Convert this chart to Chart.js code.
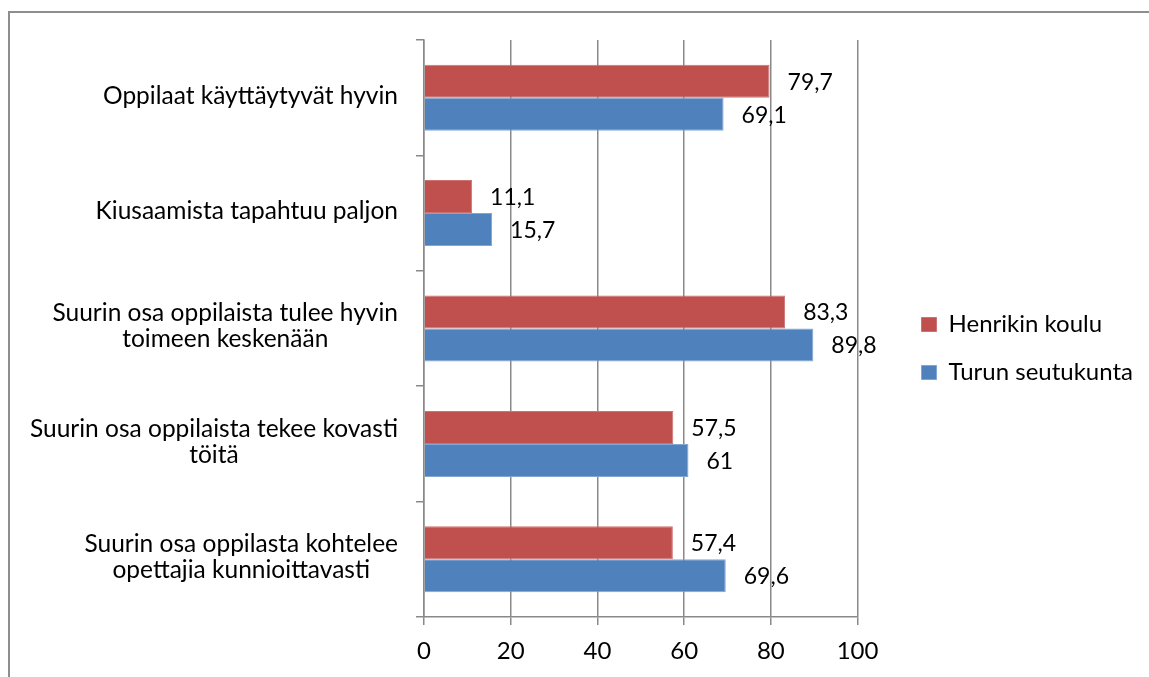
<!DOCTYPE html>
<html>
<head>
<meta charset="utf-8">
<script src="https://cdn.jsdelivr.net/npm/chart.js@4.4.1/dist/chart.umd.min.js"></script>
<style>
  html, body { margin: 0; padding: 0; background: #fff; overflow: hidden; }
  #frame {
    position: absolute; left: 8px; top: 11px; width: 1200px; height: 700px;
    border-left: 2px solid #8e8e8e; border-top: 2px solid #8e8e8e;
  }
  #chart { position: absolute; left: 0; top: 0; }
</style>
</head>
<body>
<div id="frame"></div>
<canvas id="chart" width="1149" height="677"></canvas>
<script>
const categories = [
  ["Oppilaat käyttäytyvät hyvin"],
  ["Kiusaamista tapahtuu paljon"],
  ["Suurin osa oppilaista tulee hyvin", "toimeen keskenään"],
  ["Suurin osa oppilaista tekee kovasti", "töitä"],
  ["Suurin osa oppilasta kohtelee", "opettajia kunnioittavasti"],
];
const henrikinKoulu = [79.7, 11.1, 83.3, 57.5, 57.4];
const turunSeutukunta = [69.1, 15.7, 89.8, 61, 69.6];
const xTicks = [0, 20, 40, 60, 80, 100];

const FONT = "Lato";
const FONT_SIZE = 24;
const AXIS_GRAY = "#898989";

// category labels: right edge of block at axis, lines centred inside block
const categoryLabels = {
  id: "categoryLabels",
  afterDraw(chart) {
    const y = chart.scales.y;
    const ctx = chart.ctx;
    ctx.save();
    ctx.font = `24.5px ${FONT}`;
    ctx.fillStyle = "#000";
    ctx.textAlign = "center";
    ctx.textBaseline = "middle";
    const lineH = 26;
    categories.forEach((lines, i) => {
      const cy = y.getPixelForTick(i) - 2;
      const blockW = Math.max(...lines.map((l) => ctx.measureText(l).width));
      const cx = y.right - 26 - blockW / 2;
      lines.forEach((line, j) => {
        ctx.fillText(line, cx, cy + (j - (lines.length - 1) / 2) * lineH);
      });
    });
    ctx.restore();
  },
};

// value labels after the end of each bar
const valueLabels = {
  id: "valueLabels",
  afterDatasetsDraw(chart) {
    const ctx = chart.ctx;
    const x = chart.scales.x;
    ctx.save();
    ctx.font = `${FONT_SIZE - 1}px ${FONT}`;
    ctx.fillStyle = "#000";
    ctx.textAlign = "left";
    ctx.textBaseline = "middle";
    chart.data.datasets.forEach((ds, di) => {
      const meta = chart.getDatasetMeta(di);
      meta.data.forEach((bar, i) => {
        const v = ds.data[i];
        ctx.fillText(String(v).replace(".", ","), x.getPixelForValue(v) + 18, bar.y + 1);
      });
    });
    ctx.restore();
  },
};

// push the legend a bit away from the plot and up, like the original
const legendShift = {
  id: "legendShift",
  afterLayout(chart) {
    const lg = chart.legend;
    const dx = chart.chartArea.right + 40 - lg.left;
    lg.left += dx;
    lg.right += dx;
    lg.top -= 10;
    lg.bottom -= 10;
  },
};

new Chart(document.getElementById("chart"), {
  type: "bar",
  data: {
    labels: categories,
    datasets: [
      {
        label: "Henrikin koulu",
        data: henrikinKoulu,
        backgroundColor: "#C0504D",
        borderColor: "#CC7371",
        borderWidth: 1,
      },
      {
        label: "Turun seutukunta",
        data: turunSeutukunta,
        backgroundColor: "#4F81BD",
        borderColor: "#82A6D3",
        borderWidth: 1,
      },
    ],
  },
  options: {
    responsive: false,
    animation: false,
    indexAxis: "y",
    barPercentage: 1,
    categoryPercentage: 0.572,
    layout: { padding: { top: 40, bottom: 0, left: 0, right: 46 } },
    plugins: {
      tooltip: { enabled: false },
      legend: {
        position: "right",
        labels: {
          color: "#000",
          font: { family: FONT, size: FONT_SIZE },
          boxWidth: 15,
          boxHeight: 14,
          padding: 24,
        },
      },
    },
    scales: {
      x: {
        min: 0,
        max: 100,
        afterBuildTicks: (scale) => {
          scale.ticks = xTicks.map((v) => ({ value: v }));
        },
        ticks: {
          color: "#000",
          font: { family: FONT, size: FONT_SIZE },
          padding: 12,
        },
        grid: { color: AXIS_GRAY, lineWidth: 1.5, tickLength: 8 },
        border: { color: AXIS_GRAY, width: 1.5 },
        afterFit: (scale) => {
          scale.height = 60;
        },
      },
      y: {
        offset: true,
        ticks: { display: false },
        grid: {
          offset: true,
          drawOnChartArea: false,
          color: AXIS_GRAY,
          lineWidth: 1.5,
          tickLength: 8,
        },
        border: { color: AXIS_GRAY, width: 1.5 },
        afterFit: (scale) => {
          scale.width = 424;
        },
      },
    },
  },
  plugins: [categoryLabels, valueLabels, legendShift],
});
</script>
</body>
</html>
